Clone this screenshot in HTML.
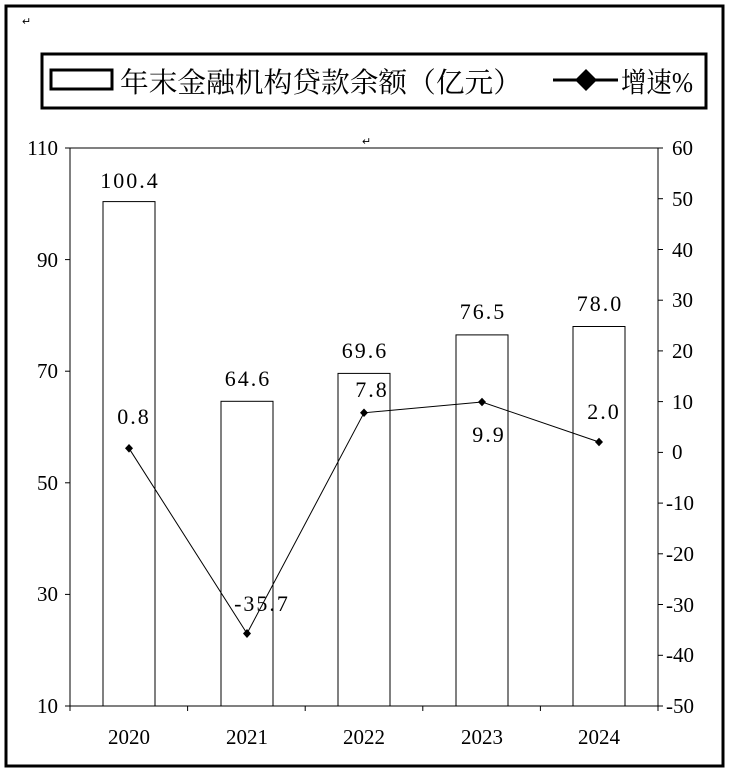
<!DOCTYPE html>
<html><head><meta charset="utf-8"><style>
body{margin:0;background:#fff;}
svg{display:block;}
text{font-family:"Liberation Serif","Noto Serif CJK SC",serif;fill:#000;}
</style></head><body>
<svg width="732" height="772" viewBox="0 0 732 772">
<rect x="6" y="6" width="717" height="760" fill="#fff" stroke="#000" stroke-width="3"/>
<text x="22" y="25" font-size="11">↵</text>
<text x="362" y="145" font-size="11">↵</text>
<rect x="42" y="54" width="664" height="54" fill="#fff" stroke="#000" stroke-width="3"/>
<rect x="51" y="70" width="61" height="19" fill="#fff" stroke="#000" stroke-width="3"/>
<text x="120" y="92" font-size="28" textLength="402" lengthAdjust="spacingAndGlyphs" font-family="Noto Serif CJK SC,serif" fill="#111">年末金融机构贷款余额（亿元）</text>
<line x1="553" y1="80" x2="618" y2="80" stroke="#000" stroke-width="3"/>
<polygon points="586,69 597,80 586,91 575,80" fill="#000"/>
<text x="621" y="92" font-size="28" textLength="72" lengthAdjust="spacingAndGlyphs" font-family="Noto Serif CJK SC,serif" fill="#111">增速%</text>
<rect x="70" y="148" width="588" height="558" fill="none" stroke="#000" stroke-width="1"/>
<g stroke="#000">
<line x1="65" y1="148" x2="70" y2="148"/><line x1="65" y1="259.6" x2="70" y2="259.6"/><line x1="65" y1="371.2" x2="70" y2="371.2"/><line x1="65" y1="482.8" x2="70" y2="482.8"/><line x1="65" y1="594.4" x2="70" y2="594.4"/><line x1="65" y1="706" x2="70" y2="706"/>
</g>
<g font-size="21" text-anchor="end">
<text x="58" y="155">110</text><text x="58" y="267">90</text><text x="58" y="378">70</text><text x="58" y="490">50</text><text x="58" y="601">30</text><text x="58" y="713">10</text>
</g>
<g stroke="#000">
<line x1="658" y1="148" x2="663" y2="148"/><line x1="658" y1="198.7" x2="663" y2="198.7"/><line x1="658" y1="249.5" x2="663" y2="249.5"/><line x1="658" y1="300.2" x2="663" y2="300.2"/><line x1="658" y1="350.9" x2="663" y2="350.9"/><line x1="658" y1="401.6" x2="663" y2="401.6"/><line x1="658" y1="452.4" x2="663" y2="452.4"/><line x1="658" y1="503.1" x2="663" y2="503.1"/><line x1="658" y1="553.8" x2="663" y2="553.8"/><line x1="658" y1="604.5" x2="663" y2="604.5"/><line x1="658" y1="655.3" x2="663" y2="655.3"/><line x1="658" y1="706" x2="663" y2="706"/>
</g>
<g font-size="21">
<text x="672" y="155">60</text><text x="672" y="206">50</text><text x="672" y="257">40</text><text x="672" y="307">30</text><text x="672" y="358">20</text><text x="672" y="409">10</text><text x="672" y="459">0</text><text x="666" y="510">-10</text><text x="666" y="561">-20</text><text x="666" y="612">-30</text><text x="666" y="662">-40</text><text x="666" y="713">-50</text>
</g>
<g stroke="#000">
<line x1="70" y1="706" x2="70" y2="711"/><line x1="187.6" y1="706" x2="187.6" y2="711"/><line x1="305.2" y1="706" x2="305.2" y2="711"/><line x1="422.8" y1="706" x2="422.8" y2="711"/><line x1="540.4" y1="706" x2="540.4" y2="711"/><line x1="658" y1="706" x2="658" y2="711"/>
</g>
<g font-size="21" text-anchor="middle">
<text x="129" y="744">2020</text><text x="247" y="744">2021</text><text x="364" y="744">2022</text><text x="482" y="744">2023</text><text x="599" y="744">2024</text>
</g>
<g fill="#fff" stroke="#000" stroke-width="1">
<rect x="103" y="201.6" width="52" height="504.4"/>
<rect x="221" y="401.3" width="52" height="304.7"/>
<rect x="338" y="373.4" width="52" height="332.6"/>
<rect x="456" y="334.9" width="52" height="371.1"/>
<rect x="573" y="326.5" width="52" height="379.5"/>
</g>
<g font-size="22" text-anchor="middle" letter-spacing="2">
<text x="130" y="188">100.4</text><text x="248" y="386">64.6</text><text x="365" y="358">69.6</text><text x="483" y="319">76.5</text><text x="600" y="311">78.0</text>
</g>
<polyline points="129,448.3 247,633.5 364,412.8 482,402 599,442" fill="none" stroke="#000" stroke-width="1"/>
<g fill="#000">
<polygon points="129,444 133,448.3 129,452.6 125,448.3"/>
<polygon points="247,629 251,633.5 247,638 243,633.5"/>
<polygon points="364,408.5 368,412.8 364,417 360,412.8"/>
<polygon points="482,397.7 486,402 482,406.3 478,402"/>
<polygon points="599,437.7 603,442 599,446.3 595,442"/>
</g>
<g font-size="22" text-anchor="middle" letter-spacing="2">
<text x="134" y="424">0.8</text><text x="262" y="611">-35.7</text><text x="372" y="397">7.8</text><text x="489" y="442">9.9</text><text x="604" y="419">2.0</text>
</g>
</svg>
</body></html>
